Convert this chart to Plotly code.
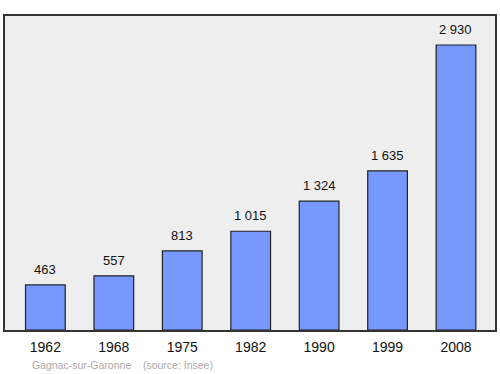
import plotly.graph_objects as go

years = ["1962", "1968", "1975", "1982", "1990", "1999", "2008"]
population = [463, 557, 813, 1015, 1324, 1635, 2930]
labels = ["463", "557", "813", "1 015", "1 324", "1 635", "2 930"]

FONT = "Liberation Sans, Arial, sans-serif"

fig = go.Figure()
fig.add_trace(go.Bar(
    x=years, y=population,
    marker=dict(color="#7799ff", line=dict(color="#222222", width=1.2)),
    width=0.58,
))
for i, (v, t) in enumerate(zip(population, labels)):
    fig.add_annotation(x=i, y=v, text=t, showarrow=False, yanchor="bottom",
                       yshift=6, font=dict(size=13, color="#111111", family=FONT))

fig.add_annotation(xref="paper", yref="paper", x=0.052, y=-0.085, xanchor="left", yanchor="top",
                   text="Gagnac-sur-Garonne&nbsp;&nbsp;&nbsp;&nbsp;(source: Insee)", showarrow=False,
                   font=dict(size=10.5, color="#aaaaaa", family=FONT))

fig.update_layout(
    width=500, height=374,
    margin=dict(l=5, r=5, t=16, b=44, autoexpand=False),
    paper_bgcolor="white",
    plot_bgcolor="#eeeeee",
    showlegend=False,
    font=dict(family=FONT),
)
fig.update_xaxes(type="category", range=[-0.59, 6.57], showline=True, mirror=True,
                 linecolor="#333333", linewidth=1.5, ticks="", showgrid=False, automargin=False,
                 ticklabelstandoff=3, tickfont=dict(size=14, color="#111111"))
fig.update_yaxes(range=[0, 3228], showline=True, mirror=True, linecolor="#333333", automargin=False,
                 linewidth=1.5, showticklabels=False, showgrid=False, zeroline=False, ticks="")

fig.write_html("out.html", config={"displayModeBar": False},
               post_script="document.body.style.margin='0px';")
